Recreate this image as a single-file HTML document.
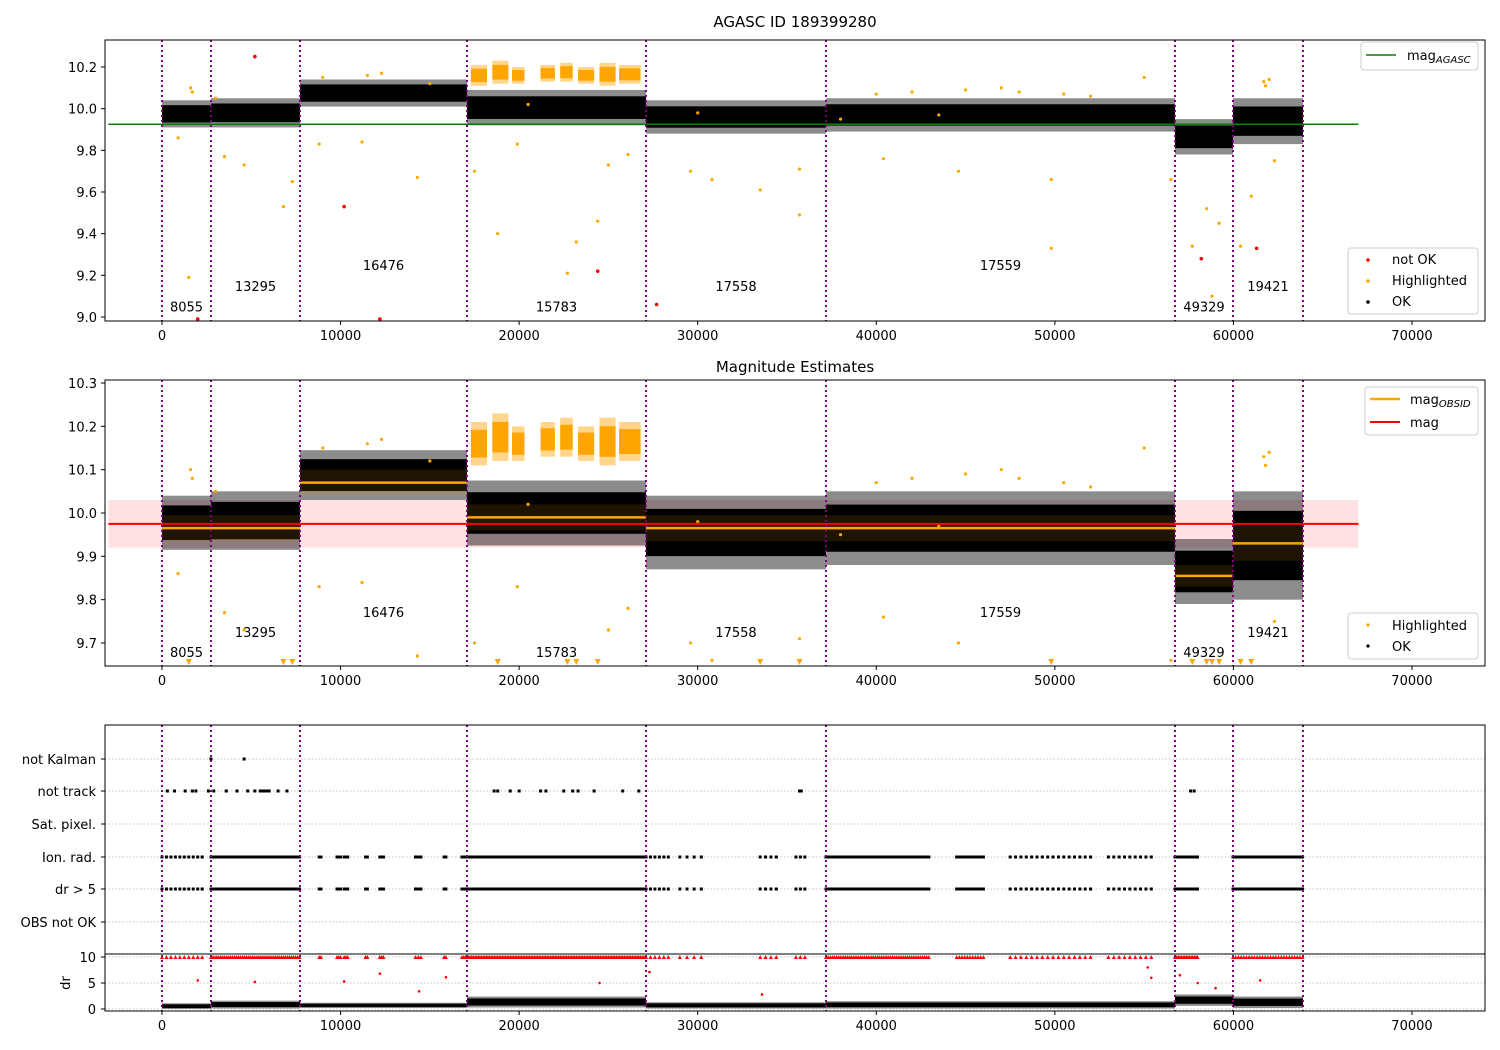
<!DOCTYPE html>
<html><head><meta charset="utf-8">
<style>
html,body{margin:0;padding:0;background:#fff;}
svg{display:block;font-family:"DejaVu Sans","Liberation Sans",sans-serif;}
</style></head>
<body>
<svg id="fig" width="1500" height="1050" viewBox="0 0 1500 1050" xmlns="http://www.w3.org/2000/svg"></svg>
<script>
// ---- data ----
const obsids = ["8055","13295","16476","15783","17558","17559","49329","19421"];
const obsStart = [0,2744,7728,17080,27104,37184,56728,59976];
const obsEnd = [2744,7728,17080,27104,37184,56728,59976,63896];
const labelMag1 = [9.05,9.15,9.25,9.05,9.15,9.25,9.05,9.15];
const labelMag2 = [9.679,9.725,9.772,9.679,9.725,9.772,9.679,9.725];
const band1Lo = [9.91,9.91,10.01,9.92,9.88,9.89,9.78,9.83];
const band1Hi = [10.04,10.05,10.14,10.09,10.04,10.05,9.95,10.05];
const band2Lo = [9.915,9.915,10.03,9.925,9.87,9.88,9.79,9.80];
const band2Hi = [10.04,10.05,10.145,10.075,10.04,10.05,9.94,10.05];
const magObs = [9.965,9.965,10.07,9.99,9.965,9.965,9.855,9.93];
const magObsStd = [0.03,0.03,0.03,0.03,0.03,0.03,0.025,0.04];
const magAgasc = 9.925;
const magMean = 9.975, magStd = 0.055;
const hiBandStart = [17300,18500,19600,21200,22300,23300,24500,25600];
const hiBandEnd = [18200,19400,20300,22000,23000,24200,25400,26800];
const hiBandLo = [10.11,10.12,10.12,10.13,10.13,10.12,10.11,10.12];
const hiBandHi = [10.21,10.23,10.20,10.21,10.22,10.20,10.22,10.21];
const hlT = [1500,900,3500,4600,6800,7300,8800,11200,14300,17500,18800,19900,22700,23200,24400,25000,26100,29600,30800,33500,35700,35700,40400,44600,49800,49800,56500,57700,58500,59200,58800,60400,61000,62300,1600,1700,9000,11500,12300,15000,40000,42000,45000,47000,48000,50500,52000,55000,61700,61800,62000,3000,20500,30000,38000,43500];
const hlM = [9.19,9.86,9.77,9.73,9.53,9.65,9.83,9.84,9.67,9.70,9.40,9.83,9.21,9.36,9.46,9.73,9.78,9.70,9.66,9.61,9.49,9.71,9.76,9.70,9.66,9.33,9.66,9.34,9.52,9.45,9.10,9.34,9.58,9.75,10.10,10.08,10.15,10.16,10.17,10.12,10.07,10.08,10.09,10.10,10.08,10.07,10.06,10.15,10.13,10.11,10.14,10.05,10.02,9.98,9.95,9.97];
const redT = [5200,10200,12200,24400,27700,58200,61300,2000];
const redM = [10.25,9.53,8.99,9.22,9.06,9.28,9.33,8.99];
const flagRows = ["not Kalman","not track","Sat. pixel.","Ion. rad.","dr > 5","OBS not OK"];
const notKalmanT = [2744,4600];
const notTrackT = [300,700,1300,1700,1900,2600,2900,3600,4200,4800,5200,5500,5600,5700,5800,5900,6000,6500,7000,18600,18800,19500,20000,21200,21500,22500,23000,23300,24200,25800,26700,35700,35800,57600,57800];
const ionStart = [0,2744,8800,9800,10200,11400,12200,14200,15800,16800,17080,27104,29000,33500,35500,37184,44500,47500,53000,56728,59976];
const ionEnd = [2300,7728,8900,10000,10400,11500,12400,14500,15900,17080,27104,28500,30500,34500,36000,43000,46000,52000,55500,58000,63896];
const ionStep = [250,110,100,100,100,100,100,150,100,100,90,250,400,300,250,120,150,300,300,90,150];
const drBaseStart = [0,2744,7728,17080,27104,37184,56728,59976];
const drBaseEnd = [2744,7728,17080,27104,37184,56728,59976,63896];
const drBaseHi = [1.1,1.6,1.2,2.4,1.3,1.5,2.8,2.4];
const drBaseLo = [0,0.1,0.2,0.3,0.1,0.1,0.6,0.2];
const drMidT = [2000,5200,10200,12200,14400,15900,27300,33600,55200,55400,57000,58000,59000,61500,24500];
const drMidV = [5.5,5.2,5.3,6.8,3.4,6.1,7.1,2.8,8.0,6.0,6.5,5.0,4.0,5.5,5.0];
const xTicks = [0,10000,20000,30000,40000,50000,60000,70000];
const y1Ticks = [9.0,9.2,9.4,9.6,9.8,10.0,10.2];
const y2Ticks = [9.7,9.8,9.9,10.0,10.1,10.2,10.3];
const drTicks = [0,5,10];

// ---- scales ----
const AX0 = 105, AX1 = 1485;
const xs = t => 162 + t * 0.017857;
const y1 = m => 317 - (m - 9.0) * 208.33;
const y2 = m => 643 - (m - 9.7) * 433.3;
const rowY = [759,791,824,857,889,922];
const yd = v => 1009 - v * 5.2;

const svg = document.getElementById('fig');
const NS = 'http://www.w3.org/2000/svg';
function el(tag, attrs, parent){ const e=document.createElementNS(NS,tag); for(const k in attrs) e.setAttribute(k,attrs[k]); (parent||svg).appendChild(e); return e; }
function txt(x,y,s,size,anchor,parent){ const t=el('text',{x:x,y:y,'font-size':size||13,'text-anchor':anchor||'middle',fill:'#000'},parent); t.textContent=s; return t; }

function fuzzyBand(parent,x0,x1,yTop,yBot,color,name){
  const h=yBot-yTop, inset=h*0.18;
  const o=el('rect',{x:x0,y:yTop,width:x1-x0,height:h,fill:color,'fill-opacity':0.45},parent);
   
  const r=el('rect',{x:x0,y:yTop+inset,width:x1-x0,height:h-2*inset,fill:color},parent);
   
}
function axesFrame(top,bot,name){
  const g = el('g',{});
  
  
  el('rect',{x:AX0,y:top,width:AX1-AX0,height:bot-top,fill:'none',stroke:'#000','stroke-width':1},g);
  xTicks.forEach(t=>{ el('line',{x1:xs(t),x2:xs(t),y1:bot,y2:bot+4,stroke:'#000'},g); const l=txt(xs(t),bot+19,String(t),13,'middle',g);   });
  return g;
}
function vlines(top,bot){
  const ends = obsStart.concat([obsEnd[obsEnd.length-1]]);
  ends.forEach(t=>{ const l=el('line',{x1:xs(t),x2:xs(t),y1:top,y2:bot,stroke:'#800080','stroke-width':2,'stroke-dasharray':'2,3'});   });
}
function obsLabels(yf,mags){
  obsids.forEach((o,i)=>{ const t=txt((xs(obsStart[i])+xs(obsEnd[i]))/2, yf(mags[i])+5, o, 13);   });
}
function yTicks(ticks,yf,fmt){
  ticks.forEach(v=>{ el('line',{x1:AX0-4,x2:AX0,y1:yf(v),y2:yf(v),stroke:'#000'}); const t=txt(AX0-8,yf(v)+5,fmt(v),13,'end');   });
}
function clipRect(id,top,bot){ const c=el('clipPath',{id:id}); el('rect',{x:AX0,y:top,width:AX1-AX0,height:bot-top},c); }

// ===== Panel 1 =====
clipRect('c1',40,321);
const p1 = el('g',{'clip-path':'url(#c1)'});


obsStart.forEach((s,i)=>fuzzyBand(p1,xs(s),xs(obsEnd[i]),y1(band1Hi[i]),y1(band1Lo[i]),'#000','ok-points-band'));
hiBandStart.forEach((s,i)=>fuzzyBand(p1,xs(s),xs(hiBandEnd[i]),y1(hiBandHi[i]),y1(hiBandLo[i]),'#ffa500','highlighted-band'));
hlT.forEach((t,i)=>{ const c=el('circle',{cx:xs(t),cy:y1(hlM[i]),r:1.6,fill:'#ffa500'},p1);   });
redT.forEach((t,i)=>{ const c=el('circle',{cx:xs(t),cy:y1(redM[i]),r:1.8,fill:'#ff0000'},p1);   });
const gl = el('line',{x1:xs(-3000),x2:xs(67000),y1:y1(magAgasc),y2:y1(magAgasc),stroke:'#008000','stroke-width':1.5},p1);
 
vlines(40,321);
obsLabels(y1,labelMag1);
axesFrame(40,321,'agasc-axes');
yTicks(y1Ticks,y1,v=>v.toFixed(1));
const t1=txt(795,27,'AGASC ID 189399280',15);  

const lg1 = el('g',{});  
el('rect',{x:1361,y:42,width:117,height:28,rx:3,fill:'#fff',stroke:'#ccc'},lg1);
el('line',{x1:1366,x2:1396,y1:55,y2:55,stroke:'#008000','stroke-width':1.5},lg1);
const lt=el('text',{x:1407,y:60,'font-size':13},lg1); lt.innerHTML='mag<tspan font-size="10" font-style="italic" dy="3">AGASC</tspan>';
const lg2 = el('g',{});  
el('rect',{x:1348,y:248,width:130,height:66,rx:3,fill:'#fff',stroke:'#ccc'},lg2);
el('circle',{cx:1368,cy:260,r:1.8,fill:'#ff0000'},lg2); txt(1392,264,'not OK',13,'start',lg2);
el('circle',{cx:1368,cy:281,r:1.8,fill:'#ffa500'},lg2); txt(1392,285,'Highlighted',13,'start',lg2);
el('circle',{cx:1368,cy:302,r:1.8,fill:'#000'},lg2); txt(1392,306,'OK',13,'start',lg2);

// ===== Panel 2 =====
clipRect('c2',380,666);
const p2 = el('g',{'clip-path':'url(#c2)'});


const pb=el('rect',{x:xs(-3000),y:y2(magMean+magStd),width:xs(67000)-xs(-3000),height:y2(magMean-magStd)-y2(magMean+magStd),fill:'#ffe0e3'},p2);
 
obsStart.forEach((s,i)=>fuzzyBand(p2,xs(s),xs(obsEnd[i]),y2(band2Hi[i]),y2(band2Lo[i]),'#000','ok-points-band'));
obsStart.forEach((s,i)=>{ const r=el('rect',{x:xs(s),y:y2(magObs[i]+magObsStd[i]),width:xs(obsEnd[i])-xs(s),height:y2(magObs[i]-magObsStd[i])-y2(magObs[i]+magObsStd[i]),fill:'#ffa500','fill-opacity':0.12},p2);   });
hiBandStart.forEach((s,i)=>fuzzyBand(p2,xs(s),xs(hiBandEnd[i]),y2(hiBandHi[i]),y2(hiBandLo[i]),'#ffa500','highlighted-band'));
hlT.forEach((t,i)=>{
  if(hlM[i] >= 9.655){ const c=el('circle',{cx:xs(t),cy:y2(hlM[i]),r:1.6,fill:'#ffa500'},p2);   }
  else { const x=xs(t); const c=el('polygon',{points:`${x-3},659 ${x+3},659 ${x},665`,fill:'#ffa500'},p2);   }
});
obsStart.forEach((s,i)=>{ const l=el('line',{x1:xs(s),x2:xs(obsEnd[i]),y1:y2(magObs[i]),y2:y2(magObs[i]),stroke:'#ffa500','stroke-width':2.5},p2);   });
const rl=el('line',{x1:xs(-3000),x2:xs(67000),y1:y2(magMean),y2:y2(magMean),stroke:'#ff0000','stroke-width':2},p2);
 
vlines(380,666);
obsLabels(y2,labelMag2);
axesFrame(380,666,'magnitude-axes');
yTicks(y2Ticks,y2,v=>v.toFixed(1));
const t2=txt(795,372,'Magnitude Estimates',15);  
const lg3 = el('g',{});  
el('rect',{x:1365,y:387,width:113,height:48,rx:3,fill:'#fff',stroke:'#ccc'},lg3);
el('line',{x1:1370,x2:1400,y1:399,y2:399,stroke:'#ffa500','stroke-width':2.5},lg3);
const lt2=el('text',{x:1410,y:404,'font-size':13},lg3); lt2.innerHTML='mag<tspan font-size="10" font-style="italic" dy="3">OBSID</tspan>';
el('line',{x1:1370,x2:1400,y1:422,y2:422,stroke:'#ff0000','stroke-width':2},lg3); txt(1410,427,'mag',13,'start',lg3);
const lg4 = el('g',{});  
el('rect',{x:1348,y:613,width:130,height:46,rx:3,fill:'#fff',stroke:'#ccc'},lg4);
el('circle',{cx:1368,cy:625,r:1.6,fill:'#ffa500'},lg4); txt(1392,630,'Highlighted',13,'start',lg4);
el('circle',{cx:1368,cy:646,r:1.6,fill:'#000'},lg4); txt(1392,651,'OK',13,'start',lg4);

// ===== Panel 3 flags =====
clipRect('c3',725,1011);
const p3 = el('g',{'clip-path':'url(#c3)'});


rowY.forEach(y=>{ el('line',{x1:AX0,x2:AX1,y1:y,y2:y,stroke:'#b0b0b0','stroke-width':0.8,'stroke-dasharray':'1.5,2'},p3); });
drTicks.forEach(v=>{ el('line',{x1:AX0,x2:AX1,y1:yd(v),y2:yd(v),stroke:'#b0b0b0','stroke-width':0.8,'stroke-dasharray':'1.5,2'},p3); });
function flagMark(t,y,name){ const r=el('rect',{x:xs(t)-1.5,y:y-1.5,width:3,height:3,fill:'#000'},p3);   }
notKalmanT.forEach(t=>flagMark(t,rowY[0],'not-kalman-flag'));
notTrackT.forEach(t=>flagMark(t,rowY[1],'not-track-flag'));
ionStart.forEach((s,i)=>{ for(let t=s;t<=ionEnd[i];t+=ionStep[i]){ flagMark(t,rowY[3],'ion-rad-flag'); flagMark(t,rowY[4],'dr-gt-5-flag'); const x=xs(t); const p=el('polygon',{points:`${x-2},${yd(10)+2} ${x+2},${yd(10)+2} ${x},${yd(10)-2}`,fill:'#ff0000'},p3);   } });
drBaseStart.forEach((s,i)=>fuzzyBand(p3,xs(s),xs(drBaseEnd[i]),yd(drBaseHi[i]),yd(drBaseLo[i]),'#000','dr-points-band'));
drMidT.forEach((t,i)=>{ const c=el('circle',{cx:xs(t),cy:yd(drMidV[i]),r:1.3,fill:'#ff0000'},p3);   });
vlines(725,1011);
axesFrame(725,1011,'flags-axes');
el('line',{x1:AX0,x2:AX1,y1:954,y2:954,stroke:'#000','stroke-width':1});
flagRows.forEach((r,i)=>{ el('line',{x1:AX0-4,x2:AX0,y1:rowY[i],y2:rowY[i],stroke:'#000'}); const t=txt(AX0-9,rowY[i]+5,r,13,'end');   });
drTicks.forEach(v=>{ el('line',{x1:AX0-4,x2:AX0,y1:yd(v),y2:yd(v),stroke:'#000'}); const t=txt(AX0-9,yd(v)+5,String(v),13,'end');   });
const dl=el('text',{x:70,y:983,'font-size':13,'text-anchor':'middle',transform:'rotate(-90 70 983)'}); dl.textContent='dr';
 
</script>
</body></html>
